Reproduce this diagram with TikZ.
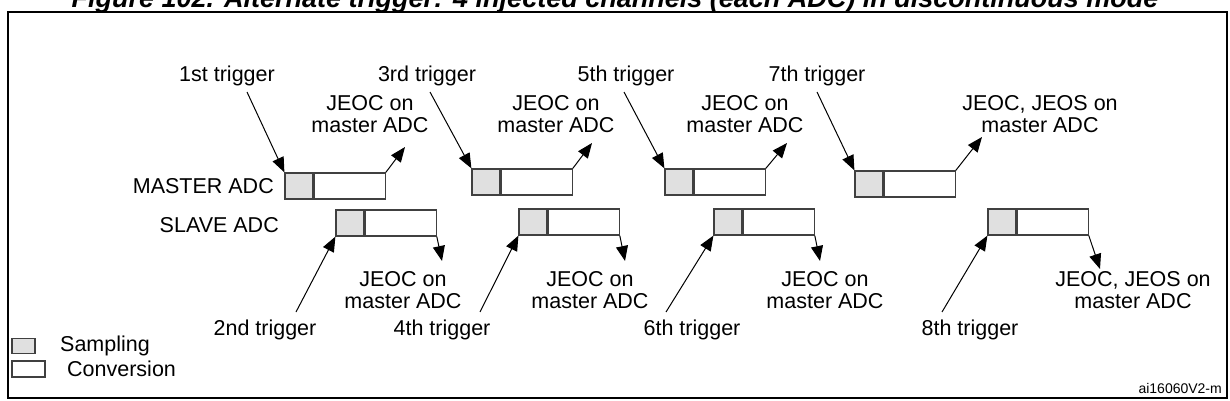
\documentclass[tikz,border=0pt]{standalone}
\usepackage{fontspec}
\setmainfont{Liberation Sans}
\usetikzlibrary{arrows.meta}
\usetikzlibrary{positioning}
\tikzset{smp/.style={rectangle,draw=black!75,line width=1.2pt,fill=black!12,inner sep=0pt,minimum width=28pt,minimum height=26pt}}
\tikzset{cnv/.style={rectangle,draw=black!75,line width=1.2pt,fill=white,inner sep=0pt,minimum width=71pt,minimum height=26pt}}
\tikzset{lbl/.style={inner sep=0pt,align=center,font=\fontsize{21.5}{22}\selectfont}}
\tikzset{arr/.style={line width=1pt,-{Triangle[length=15pt,width=12pt]}}}

\begin{document}
\begin{tikzpicture}[x=1pt,y=-1pt]
\useasboundingbox (0,0) rectangle (1230,401);
\node[lbl,font=\fontsize{27}{28}\selectfont\bfseries\itshape,anchor=base] (title) at (615,8) {Figure 102. Alternate trigger: 4 injected channels (each ADC) in discontinuous mode};
\draw[line width=1.3pt] (8,12) rectangle (1227,398);

\foreach \i/\mx/\my/\sx/\sy in {1/285/173/336/210,2/472/169/519/209,3/665/169/714/209,4/855/171/988/209}
{
	\node (M\i s) at (\mx+14,\my+13) [smp] {};
	\node (M\i c) [cnv,right=0pt of M\i s] {};
	\node (S\i s) at (\sx+14,\sy+13) [smp] {};
	\node (S\i c) [cnv,right=0pt of S\i s] {};
}

\node[lbl,anchor=east] (mst) at (274,186) {MASTER ADC};
\node[lbl,anchor=east] (slv) at (279,225) {SLAVE ADC};

% master triggers
\foreach \i/\x/\t/\s in {1/227/1st/247,2/427/3rd/430,3/626/5th/624,4/817/7th/817}
{
	\node[lbl] (MT\i) at (\x,76) {\t\ trigger};
	\coordinate (MA\i) at (\s,92);
	\draw[arr] (MA\i) -- (M\i s.north west);
}
% slave triggers
\foreach \i/\x/\t/\s in {1/265/2nd/296,2/442/4th/480,3/692/6th/666,4/970/8th/942}
{
	\node[lbl] (ST\i) at (\x,330) {\t\ trigger};
	\coordinate (SA\i) at (\s,312);
	\draw[arr] (SA\i) -- (S\i s.south west);
}
% end of conversion
\foreach \i/\x/\px/\py in {1/370/405/147,2/556/592/143,3/745/787/143}
{
	\node[lbl] (MJ\i) at (\x,114) {JEOC on\\master ADC};
	\coordinate (MP\i) at (\px,\py);
	\draw[arr] (M\i c.north east) -- (MP\i);
}
\node[lbl] (MJ4) at (1040,114) {JEOC, JEOS on\\master ADC};
\coordinate (MP4) at (982,137);
\draw[arr] (M4c.north east) -- (MP4);

\foreach \i/\x/\px/\py in {1/403/442/261,2/590/625/261,3/825/820/261}
{
	\node[lbl] (SJ\i) at (\x,290) {JEOC on\\master ADC};
	\coordinate (SP\i) at (\px,\py);
	\draw[arr] (S\i c.south east) -- (SP\i);
}
\node[lbl] (SJ4) at (1133,290) {JEOC, JEOS on\\master ADC};
\coordinate (SP4) at (1100,269);
\draw[arr] (S4c.south east) -- (SP4);

% legend
\node[smp,minimum width=23pt,minimum height=15pt] (ls) at (23.5,346) {};
\node[cnv,minimum width=33pt,minimum height=16pt] (lc) at (28.5,369) {};
\node[lbl,anchor=west] (lst) at (60,346) {Sampling};
\node[lbl,anchor=west] (lct) at (67,369) {Conversion};
\node[lbl,font=\fontsize{14}{16}\selectfont,anchor=east] (id) at (1222,388) {ai16060V2-m};
\end{tikzpicture}
\end{document}
